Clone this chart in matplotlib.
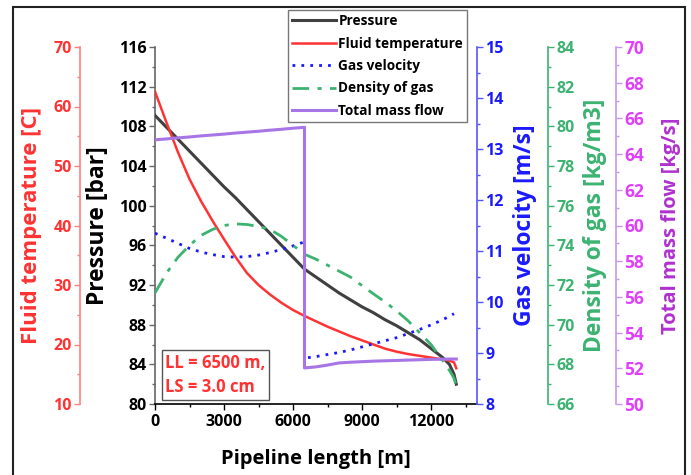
import matplotlib
matplotlib.use("Agg")
import matplotlib.pyplot as plt
from matplotlib.ticker import MultipleLocator
from matplotlib.patches import Rectangle
import numpy as np

plt.rcParams['font.family'] = ['Open Sans', 'DejaVu Sans']
plt.rcParams['font.weight'] = 'bold'

# ---------------- data ----------------
length_m = [0, 500, 1000, 1500, 2000, 2500, 3000, 3500, 4000, 4500, 5000, 5500, 6000, 6500,
            6500, 7000, 7500, 8000, 8500, 9000, 9500, 10000, 10500, 11000, 11500, 12000,
            12500, 12800, 13000, 13100]
pressure_bar = [109.1, 107.9, 106.7, 105.5, 104.3, 103.1, 101.9, 100.8, 99.6, 98.4, 97.2, 96.0,
                94.8, 93.6, 93.6, 92.8, 92.0, 91.2, 90.5, 89.8, 89.2, 88.5, 87.9, 87.2, 86.5,
                85.6, 84.7, 84.0, 83.0, 82.0]
fluid_temp_c = [62.5, 57.3, 52.3, 47.8, 44.1, 40.8, 37.7, 34.7, 32.0, 30.0, 28.4, 27.0, 25.8,
                24.8, 24.8, 23.9, 23.0, 22.2, 21.4, 20.7, 20.0, 19.3, 18.8, 18.4, 18.1, 17.8,
                17.5, 17.3, 17.0, 16.0]
gas_velocity = [11.35, 11.25, 11.15, 11.05, 10.98, 10.93, 10.89, 10.88, 10.89, 10.92, 10.97,
                11.03, 11.10, 11.18, 8.90, 8.93, 8.97, 9.01, 9.06, 9.12, 9.18, 9.24, 9.30, 9.38,
                9.46, 9.55, 9.65, 9.72, 9.77, np.nan]
gas_density = [71.6, 72.6, 73.4, 74.0, 74.5, 74.8, 75.0, 75.08, 75.05, 74.95, 74.8, 74.45, 74.0,
               73.55, 73.55, 73.3, 73.0, 72.7, 72.4, 71.97, 71.55, 71.15, 70.7, 70.2, 69.6,
               69.0, 68.2, 67.7, 67.3, 66.9]
mass_flow = [64.80, 64.85, 64.91, 64.96, 65.02, 65.07, 65.12, 65.18, 65.23, 65.28, 65.34, 65.39,
             65.45, 65.50, 52.02, 52.08, 52.18, 52.30, 52.34, 52.37, 52.40, 52.42, 52.44,
             52.46, 52.48, 52.50, 52.51, 52.52, 52.52, 52.52]

series_names = ["Pressure", "Fluid temperature", "Gas velocity", "Density of gas", "Total mass flow"]
annotation = "LL = 6500 m,\nLS = 3.0 cm"

# ---------------- colours ----------------
c_p = '#404040'
c_t = '#ff3333'
c_v = '#1a1aff'
c_d = '#3cb371'
c_m = '#a875e6'
c_m_tick = '#e040fb'
c_m_label = '#b030d0'

fig = plt.figure(figsize=(6.91, 4.75), dpi=100)
ax = fig.add_axes([155/691, 71/475, 322/691, 357/475])

tick_fs = 11.5

def style(a, color, spine, labelcolor, major, minor):
    a.yaxis.set_major_locator(MultipleLocator(major))
    a.yaxis.set_minor_locator(MultipleLocator(minor))
    a.tick_params(axis='y', which='major', direction='out', length=4, width=1, colors=color,
                  labelcolor=labelcolor, labelsize=tick_fs, pad=2)
    a.tick_params(axis='y', which='minor', direction='out', length=2.5, width=1, colors=color)
    for s in a.spines.values():
        s.set_visible(False)
    a.spines[spine].set_visible(True)
    a.spines[spine].set_color(color)
    a.spines[spine].set_linewidth(1.2)

# main pressure axis
l1, = ax.plot(length_m, pressure_bar, color=c_p, lw=2.2, label=series_names[0], zorder=5)
ax.set_xlim(0, 14000)
ax.set_ylim(80, 116)
style(ax, '#666666', 'left', 'black', 4, 2)
ax.spines['bottom'].set_visible(True)
ax.spines['bottom'].set_color('black')
ax.spines['bottom'].set_linewidth(1.2)
ax.xaxis.set_major_locator(MultipleLocator(3000))
ax.xaxis.set_minor_locator(MultipleLocator(1500))
ax.tick_params(axis='x', which='major', direction='out', length=4, width=1, labelsize=tick_fs)
ax.tick_params(axis='x', which='minor', direction='out', length=2.5, width=1)
ax.set_ylabel("Pressure [bar]", fontsize=16.5, fontweight='bold', color='black')
ax.yaxis.set_label_coords((110-155)/322, 0.5)
ax.set_xlabel("Pipeline length [m]", fontsize=14.5, fontweight='bold')
ax.xaxis.set_label_coords(0.5, (404-449)/357)
ax.patch.set_visible(False)

# temperature axis (left, offset)
axt = ax.twinx()
axt.yaxis.set_ticks_position('left')
axt.yaxis.set_label_position('left')
axt.spines['left'].set_position(('axes', -75/322))
l2, = axt.plot(length_m, fluid_temp_c, color=c_t, lw=1.8, label=series_names[1], zorder=4)
axt.set_ylim(10, 70)
style(axt, '#ff8080', 'left', c_t, 10, 5)
axt.set_ylabel("Fluid temperature [C]", fontsize=16, fontweight='bold', color=c_t)
axt.yaxis.set_label_coords((42-155)/322, 0.5)

# gas velocity axis (right)
axv = ax.twinx()
l3, = axv.plot(length_m, gas_velocity, color=c_v, lw=2, ls=(0, (1, 2.2)), label=series_names[2], zorder=4)
axv.set_ylim(8, 15)
style(axv, '#5555ff', 'right', c_v, 1, 0.5)
axv.set_ylabel("Gas velocity [m/s]", fontsize=16.5, fontweight='bold', color=c_v)
axv.yaxis.set_label_coords((513-155)/322, 0.5)

# density axis
axd = ax.twinx()
axd.spines['right'].set_position(('axes', 393/322))
l4, = axd.plot(length_m, gas_density, color=c_d, lw=2, ls=(0, (6, 3, 1.5, 3)), label=series_names[3], zorder=4)
axd.set_ylim(66, 84)
style(axd, c_d, 'right', c_d, 2, 1)
axd.set_ylabel("Density of gas [kg/m3]", fontsize=16.5, fontweight='bold', color=c_d)
axd.yaxis.set_label_coords((583-155)/322, 0.5)

# mass flow axis
axm = ax.twinx()
axm.spines['right'].set_position(('axes', 461/322))
l5, = axm.plot(length_m, mass_flow, color=c_m, lw=2.2, label=series_names[4], zorder=6)
axm.set_ylim(50, 70)
style(axm, '#c896f0', 'right', c_m_tick, 2, 1)
axm.tick_params(axis='y', labelsize=12.5)
axm.set_ylabel("Total mass flow [kg/s]", fontsize=14.5, fontweight='bold', color=c_m_label)
axm.yaxis.set_label_coords((661-155)/322, 0.5)

leg = axm.legend(handles=[l1, l2, l3, l4, l5], loc='upper left',
                 bbox_to_anchor=((288-155)/322, (404-10)/357),
                 prop={'weight': 'bold', 'size': 9.8}, handlelength=3.2, handletextpad=0.2,
                 labelspacing=0.62, borderpad=0.3, fancybox=False, framealpha=1,
                 edgecolor='#777777', borderaxespad=0)
leg.get_frame().set_linewidth(1)
leg.set_zorder(20)

ax.text((165-155)/322, (404-375)/357, annotation, transform=ax.transAxes, color=c_t, fontsize=12,
        fontweight='bold', ha='left', va='center', linespacing=1.5, zorder=10,
        bbox=dict(boxstyle='square,pad=0.2', fc='white', ec='#555555', lw=1))

fig.patches.append(Rectangle((13.5/691, -0.05), (685-13.5)/691, 1.05 - 7/475,
                             transform=fig.transFigure, fill=False, ec='#222222', lw=1.5))

fig.savefig("out.png", dpi=100)
